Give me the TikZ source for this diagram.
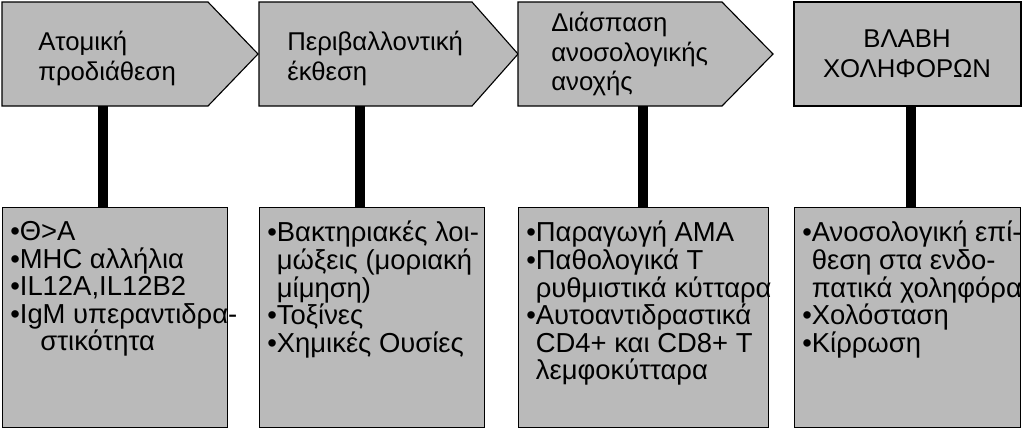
\documentclass[tikz,border=0pt]{standalone}
\usepackage{fontspec}
\setmainfont{Liberation Sans}
\usetikzlibrary{positioning,calc}

\tikzset{
  stage/.style={draw=black, fill=black!27, line width=0.8pt},
  listbox/.style={draw=black, fill=black!27, line width=0.8pt, anchor=north west, inner sep=0pt},
  listtext/.style={anchor=north west, align=left, inner sep=0pt, font=\fontsize{19.5}{19.6}\selectfont},
  headtext/.style={anchor=west, align=left, inner sep=0pt, font=\fontsize{18.3}{21.3}\selectfont},
  bar/.style={line width=7pt, black}
}

\begin{document}
\begin{tikzpicture}[x=0.025cm, y=-0.025cm]
\useasboundingbox (0,0) rectangle (1024,430);
% top stages
\draw[stage] (2,2) -- (208,2) -- (258,54) -- (208,106) -- (2,106) -- cycle;
\draw[stage] (259,2) -- (472,2) -- (518,54) -- (472,106) -- (259,106) -- cycle;
\draw[stage] (518,2) -- (722,2) -- (773,54) -- (722,106) -- (518,106) -- cycle;
\draw[stage] (794,2) rectangle (1021,106);
\coordinate (s1) at (103,106);
\coordinate (s2) at (360,106);
\coordinate (s3) at (643,106);
\coordinate (s4) at (911,106);
\node[headtext] (h1) at (38,58) {Ατομική\\προδιάθεση};
\node[headtext] (h2) at (287,58) {Περιβαλλοντική\\έκθεση};
\node[headtext] (h3) at (551,54) {Διάσπαση\\ανοσολογικής\\ανοχής};
\node[headtext, anchor=center, align=center] (h4) at (907,54) {ΒΛΑΒΗ\\ΧΟΛΗΦΟΡΩΝ};
% bottom boxes
\node[listbox, minimum width=225*0.025cm, minimum height=220*0.025cm] (b1) at (2,207) {};
\node[listbox, minimum width=225*0.025cm, minimum height=220*0.025cm] (b2) at (259,207) {};
\node[listbox, minimum width=250*0.025cm, minimum height=220*0.025cm] (b3) at (518,207) {};
\node[listbox, minimum width=226*0.025cm, minimum height=220*0.025cm] (b4) at (794,207) {};
\node[listtext] (t1) at (10,221) {•Θ>Α\\•MHC αλλήλια\\•IL12A,IL12B2\\•IgM υπεραντιδρα-\\\hspace{1.1em}στικότητα};
\node[listtext] (t2) at (267,221) {•Βακτηριακές λοι-\\\hspace{0.35em}μώξεις (μοριακή\\\hspace{0.35em}μίμηση)\\•Τοξίνες\\•Χημικές Ουσίες};
\node[listtext] (t3) at (526,221) {•Παραγωγή ΑΜΑ\\•Παθολογικά Τ\\\hspace{0.35em}ρυθμιστικά κύτταρα\\•Αυτοαντιδραστικά\\\hspace{0.35em}CD4+ και CD8+ Τ\\\hspace{0.35em}λεμφοκύτταρα};
\node[listtext] (t4) at (802,221) {•Ανοσολογική επί-\\\hspace{0.35em}θεση στα ενδο-\\\hspace{0.35em}πατικά χοληφόρα\\•Χολόσταση\\•Κίρρωση};
% connectors
\draw[bar] (s1) -- (b1.north west -| s1);
\draw[bar] (s2) -- (b2.north west -| s2);
\draw[bar] (s3) -- (b3.north west -| s3);
\draw[bar] (s4) -- (b4.north west -| s4);
\end{tikzpicture}
\end{document}
